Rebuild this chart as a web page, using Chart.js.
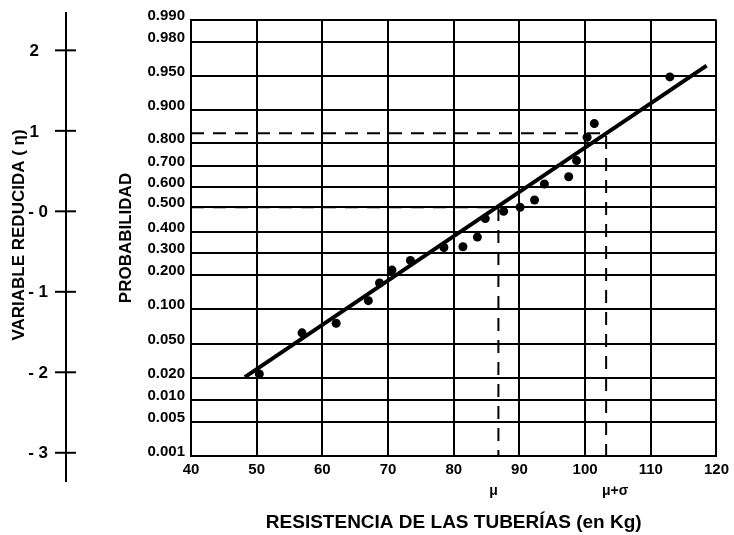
<!DOCTYPE html>
<html>
<head>
<meta charset="utf-8">
<script src="https://cdn.jsdelivr.net/npm/chart.js@4.4.1/dist/chart.umd.min.js"></script>
<style>
  html, body { margin: 0; padding: 0; background: #fff; }
  #wrap { width: 734px; height: 535px; position: relative; }
</style>
</head>
<body>
<div id="wrap"><canvas id="chart"></canvas></div>
<script>
/* puntos: resistencia (kg) y variable reducida */
const resistencia = [50.4, 56.9, 62.1, 67.0, 68.7, 70.6, 73.4, 78.5, 81.4, 83.6,
                     84.8, 87.6, 90.1, 92.3, 93.8, 97.5, 98.7, 100.3, 101.4, 112.9];
const variableReducida = [-2.02, -1.51, -1.39, -1.11, -0.89, -0.73, -0.61, -0.45, -0.44, -0.32,
                          -0.09, 0.00, 0.05, 0.14, 0.34, 0.43, 0.63, 0.92, 1.09, 1.67];

/* recta ajustada */
const rectaX = [48.2, 118.5];
const rectaY = [-2.06, 1.81];

/* media y media + desviacion */
const mu = 86.8;
const muSigma = 103.2;
const etaMu = 0.05;
const etaMuSigma = 0.97;

/* escala de probabilidad (posicion en variable reducida) */
const probLabels = ['0.990', '0.980', '0.950', '0.900', '0.800', '0.700', '0.600', '0.500', '0.400',
                    '0.300', '0.200', '0.100', '0.050', '0.020', '0.010', '0.005', '0.001'];
const probEta = [2.377, 2.103, 1.681, 1.265, 0.849, 0.569, 0.302, 0.053, -0.251,
                 -0.518, -0.791, -1.214, -1.649, -2.071, -2.344, -2.618, -3.040];

const etaTicks = [2, 1, 0, -1, -2, -3];
const etaLabels = ['2', '1', '- 0', '- 1', '- 2', '- 3'];
const xTicks = [40, 50, 60, 70, 80, 90, 100, 110, 120];

const fam = '"Liberation Sans", Arial, Helvetica, sans-serif';
const yMin = probEta[probEta.length - 1];
const yMax = probEta[0];

const puntos = resistencia.map((v, i) => ({x: v, y: variableReducida[i]}));
const recta = rectaX.map((v, i) => ({x: v, y: rectaY[i]}));

/* eje de la variable reducida y etiquetas mu */
const ejeEta = {
    id: 'ejeEta',
    afterDraw(chart) {
        const {ctx, scales: {x, y}} = chart;
        const ax = 66;
        ctx.save();
        ctx.strokeStyle = '#000';
        ctx.fillStyle = '#000';
        ctx.lineWidth = 2;
        ctx.beginPath();
        ctx.moveTo(ax, y.top - 8);
        ctx.lineTo(ax, y.bottom + 26);
        ctx.stroke();

        ctx.font = 'bold 17px ' + fam;
        ctx.textBaseline = 'middle';
        ctx.textAlign = 'right';
        etaTicks.forEach((v, i) => {
            const py = y.getPixelForValue(v);
            ctx.beginPath();
            ctx.moveTo(ax - 11, py);
            ctx.lineTo(ax + 10, py);
            ctx.stroke();
            ctx.fillText(etaLabels[i], v > 0 ? 39 : 48, py + 1);
        });

        ctx.save();
        ctx.translate(19, (y.top + y.bottom) / 2 - 3);
        ctx.rotate(-Math.PI / 2);
        ctx.textAlign = 'center';
        ctx.fillText('VARIABLE REDUCIDA ( η)', 0, 0);
        ctx.restore();

        ctx.font = 'bold 14px ' + fam;
        ctx.textAlign = 'center';
        ctx.fillText('μ', x.getPixelForValue(mu) - 5, y.bottom + 35);
        ctx.fillText('μ+σ', x.getPixelForValue(muSigma) + 9, y.bottom + 35);
        ctx.restore();
    }
};

new Chart(document.getElementById('chart'), {
    data: {
        datasets: [
            {
                type: 'scatter',
                data: puntos,
                pointRadius: 4.5,
                pointBackgroundColor: '#000',
                pointBorderWidth: 0
            },
            {
                type: 'line',
                data: recta,
                borderColor: '#000',
                borderWidth: 4,
                pointRadius: 0
            },
            {
                type: 'line',
                data: [{x: xTicks[0], y: etaMu}, {x: mu, y: etaMu}, {x: mu, y: yMin}],
                borderColor: '#000',
                borderWidth: 2,
                borderDash: [13, 9],
                pointRadius: 0
            },
            {
                type: 'line',
                data: [{x: xTicks[0], y: etaMuSigma}, {x: muSigma, y: etaMuSigma}, {x: muSigma, y: yMin}],
                borderColor: '#000',
                borderWidth: 2,
                borderDash: [13, 9],
                pointRadius: 0
            }
        ]
    },
    options: {
        responsive: true,
        maintainAspectRatio: false,
        animation: false,
        devicePixelRatio: 1,
        layout: {padding: {left: 100, right: 14, top: 20, bottom: 0}},
        plugins: {legend: {display: false}, tooltip: {enabled: false}},
        scales: {
            x: {
                type: 'linear',
                min: xTicks[0],
                max: xTicks[xTicks.length - 1],
                afterBuildTicks: s => { s.ticks = xTicks.map(v => ({value: v})); },
                afterFit: s => { s.height = 79; },
                ticks: {
                    font: {family: fam, weight: 'bold', size: 15},
                    color: '#000',
                    padding: 5,
                    maxRotation: 0,
                    autoSkip: false
                },
                grid: {color: '#000', lineWidth: 2, drawTicks: false},
                border: {color: '#000', width: 2},
                title: {
                    display: true,
                    text: 'RESISTENCIA DE LAS TUBERÍAS (en Kg)',
                    font: {family: fam, weight: 'bold', size: 19},
                    color: '#000',
                    padding: {top: 0, bottom: 1}
                }
            },
            y: {
                type: 'linear',
                min: yMin,
                max: yMax,
                afterBuildTicks: s => { s.ticks = probEta.map(v => ({value: v})); },
                afterFit: s => { s.width = 91; },
                ticks: {
                    callback: (v, i) => probLabels[i],
                    font: {family: fam, weight: 'bold', size: 15},
                    color: '#000',
                    padding: 6,
                    labelOffset: -4,
                    autoSkip: false
                },
                grid: {color: '#000', lineWidth: 2, drawTicks: false},
                border: {color: '#000', width: 2},
                title: {
                    display: true,
                    text: 'PROBABILIDAD',
                    font: {family: fam, weight: 'bold', size: 17},
                    color: '#000',
                    padding: {top: 16, bottom: 0}
                }
            }
        }
    },
    plugins: [ejeEta]
});
</script>
</body>
</html>
